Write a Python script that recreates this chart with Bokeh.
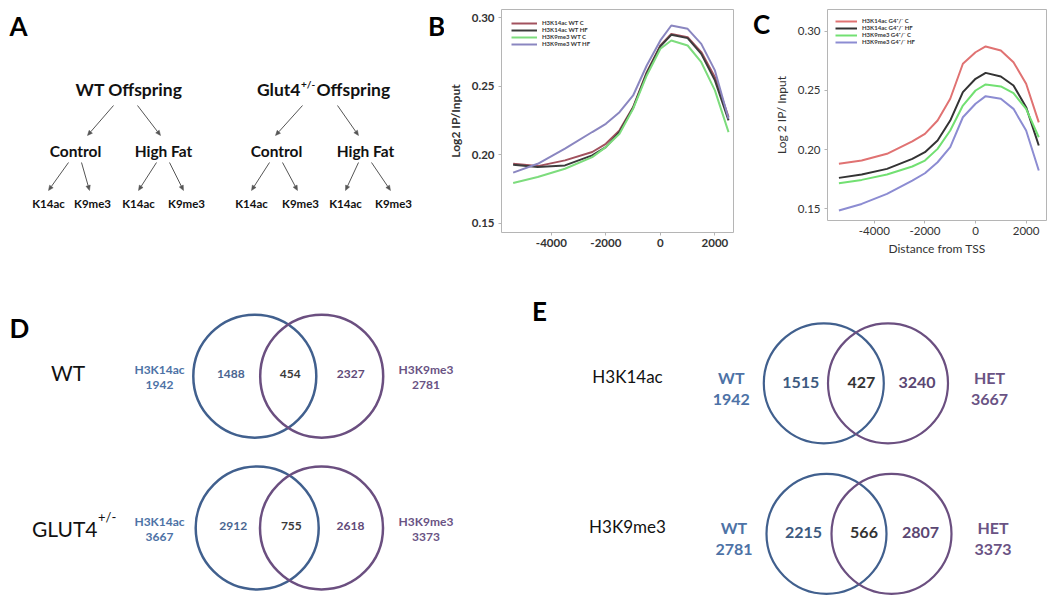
import math
from bokeh.plotting import figure
from bokeh.layouts import row, column
from bokeh.models import (Range1d, FixedTicker, PrintfTickFormatter, Legend, LegendItem)
from bokeh.core.properties import value
from bokeh.embed import file_html
from bokeh.resources import INLINE

FONT = "Lato"

# ---------------- data ----------------
# Panel A: experimental design
genotypes = ["WT", "Glut4"]
genotype_sup = ["", "+/-"]
diets = ["Control", "High Fat"]
marks = ["K14ac", "K9me3"]

# Panels B and C: average ChIP profiles around the TSS
tss_distance = [-5400, -4500, -3500, -2500, -2000, -1500, -1000, -500, 0, 400, 1000, 1500, 2000, 2500]

b_labels = ["H3K14ac WT C", "H3K14ac WT HF", "H3K9me3 WT C", "H3K9me3 WT HF"]
b_k14ac_c = [0.1934, 0.1917, 0.1959, 0.2020, 0.2080, 0.2178, 0.2348, 0.2603, 0.2798, 0.2883, 0.2859, 0.2750, 0.2567, 0.2275]
b_k14ac_hf = [0.1927, 0.1910, 0.1922, 0.1995, 0.2056, 0.2166, 0.2343, 0.2596, 0.2793, 0.2876, 0.2852, 0.2737, 0.2543, 0.2251]
b_k9me3_c = [0.1793, 0.1837, 0.1898, 0.1983, 0.2056, 0.2153, 0.2336, 0.2579, 0.2774, 0.2835, 0.2798, 0.2676, 0.2470, 0.2165]
b_k9me3_hf = [0.1869, 0.1934, 0.2044, 0.2166, 0.2226, 0.2311, 0.2433, 0.2652, 0.2835, 0.2944, 0.2920, 0.2810, 0.2616, 0.2263]

c_labels = ["H3K14ac G4\u207a/\u207b C", "H3K14ac G4\u207a/\u207b HF", "H3K9me3 G4\u207a/\u207b C", "H3K9me3 G4\u207a/\u207b HF"]
c_k14ac_c = [0.1880, 0.1907, 0.1964, 0.2070, 0.2133, 0.2245, 0.2429, 0.2725, 0.2822, 0.2871, 0.2837, 0.2738, 0.2556, 0.2230]
c_k14ac_hf = [0.1761, 0.1789, 0.1837, 0.1922, 0.1978, 0.2076, 0.2245, 0.2485, 0.2598, 0.2648, 0.2617, 0.2541, 0.2358, 0.2034]
c_k9me3_c = [0.1716, 0.1744, 0.1789, 0.1857, 0.1907, 0.2006, 0.2161, 0.2372, 0.2499, 0.2550, 0.2533, 0.2476, 0.2344, 0.2104]
c_k9me3_hf = [0.1485, 0.1541, 0.1626, 0.1738, 0.1800, 0.1893, 0.2020, 0.2273, 0.2387, 0.2451, 0.2429, 0.2344, 0.2161, 0.1823]

x_ticks = [-4000, -2000, 0, 2000]
y_ticks = [0.15, 0.20, 0.25, 0.30]

# Panel D: mark overlap within genotype
d_rows = ["WT", "GLUT4"]
d_rows_sup = ["", "+/-"]
d_left_name = "H3K14ac"
d_right_name = "H3K9me3"
d_left_total = [1942, 3667]
d_right_total = [2781, 3373]
d_left_only = [1488, 2912]
d_overlap = [454, 755]
d_right_only = [2327, 2618]

# Panel E: genotype overlap within mark
e_rows = ["H3K14ac", "H3K9me3"]
e_left_name = "WT"
e_right_name = "HET"
e_left_total = [1942, 2781]
e_right_total = [3667, 3373]
e_left_only = [1515, 2215]
e_overlap = [427, 566]
e_right_only = [3240, 2807]

# ---------------- styles ----------------
BLUE_C = "#41608e"
PURPLE_C = "#6b4f80"
BLUE_T = "#4d72a6"
PURPLE_T = "#6a5384"
DARK = "#222222"
ROW1_H = 290
ROW2_H = 309
TOP_B, BOT_B = 9, 70   # top-row frame borders (row frames get aligned)


def blank(w, h, x0, y0, top=0, bottom=0):
    p = figure(width=w, height=h, x_range=Range1d(x0, x0 + w),
               y_range=Range1d(y0 + h - bottom, y0 + top),
               output_backend="svg", toolbar_location=None,
               min_border_left=0, min_border_right=0, min_border_top=top, min_border_bottom=bottom,
               x_axis_location=None, y_axis_location=None)
    p.grid.visible = False
    p.outline_line_color = None
    return p


def txt(p, x, y, t, size, color=DARK, bold=False, align="center"):
    p.text(x=[x], y=[y], text=[t], text_font=value(FONT), text_font_size=size,
           text_font_style="bold" if bold else "normal", text_color=color,
           text_align=align, text_baseline="middle")


def arrow(p, x0, y0, x1, y1, color="#555"):
    dx, dy = x1 - x0, y1 - y0
    L = math.hypot(dx, dy)
    ux, uy = dx / L, dy / L
    nx, ny = -uy, ux
    bx, by = x1 - 5 * ux, y1 - 5 * uy
    p.segment(x0=[x0], y0=[y0], x1=[bx], y1=[by], line_color=color, line_width=1)
    p.patch(x=[x1, bx + 2.2 * nx, bx - 2.2 * nx], y=[y1, by + 2.2 * ny, by - 2.2 * ny],
            fill_color=color, line_color=color, line_width=0.5)


# ---------------- Panel A (also hosts the "B" letter) ----------------
pa = blank(444, ROW1_H, 0, 0, TOP_B, BOT_B)
txt(pa, 18, 25, "A", "26px", "#000", True)
txt(pa, 436, 25, "B", "26px", "#000", True)
head_x = [128.5, 300]
diet_x = [[75, 163], [276, 365]]
mark_x = [[[48, 92], [138, 186]], [[251, 300], [345, 393]]]
lvl1_start = [[(113, 105), (137, 105)], [(302, 105), (337, 105)]]
lvl1_end = [[(87, 135), (160, 135)], [(275, 135), (358, 135)]]
for g, name in enumerate(genotypes):
    if genotype_sup[g]:
        txt(pa, head_x[g], 89, name, "17.5px", "#111", True, "right")
        txt(pa, head_x[g] + 0.5, 83, genotype_sup[g], "10px", "#111", True, "left")
        txt(pa, head_x[g] + 16, 89, "Offspring", "17.5px", "#111", True, "left")
    else:
        txt(pa, head_x[g], 89, name + " Offspring", "17.5px", "#111", True)
    for d, dname in enumerate(diets):
        (x0, y0), (x1, y1) = lvl1_start[g][d], lvl1_end[g][d]
        arrow(pa, x0, y0, x1, y1)
        txt(pa, diet_x[g][d], 150, dname, "15.5px", "#111", True)
        for m, mname in enumerate(marks):
            sx = diet_x[g][d] + (-7 if m == 0 else 6)
            ex = mark_x[g][d][m] + (0 if m == 0 else -3)
            arrow(pa, sx, 162, ex, 190)
            txt(pa, mark_x[g][d][m], 203, mname, "11.5px", "#111", True)


# ---------------- Panels B, C ----------------
def profile_fig(width, xr, yr, mbl, mbr, mbb, bold):
    p = figure(width=width, height=ROW1_H, x_range=Range1d(*xr), y_range=Range1d(*yr),
               output_backend="svg", toolbar_location=None,
               min_border_left=mbl, min_border_right=mbr, min_border_top=TOP_B, min_border_bottom=mbb)
    p.grid.visible = False
    p.outline_line_color = "#b5b5b5"
    p.xaxis.ticker = FixedTicker(ticks=x_ticks)
    p.yaxis.ticker = FixedTicker(ticks=y_ticks)
    p.xaxis.formatter = PrintfTickFormatter(format="%d")
    p.yaxis.formatter = PrintfTickFormatter(format="%.2f")
    p.axis.axis_line_color = None
    p.axis.major_tick_line_color = "#b5b5b5"
    p.axis.major_tick_out = 3
    p.axis.major_tick_in = 0
    p.axis.minor_tick_line_color = None
    p.axis.major_label_text_font = FONT
    p.axis.major_label_text_font_size = "11.5px"
    p.axis.major_label_text_color = "#333"
    p.axis.major_label_text_font_style = "bold" if bold else "normal"
    p.axis.major_label_standoff = 4
    p.xaxis.major_label_standoff = 3
    p.axis.axis_label_text_font = FONT
    p.axis.axis_label_text_font_size = "12px"
    p.axis.axis_label_text_color = "#333"
    p.axis.axis_label_text_font_style = "bold" if bold else "normal"
    return p


def add_profiles(p, series, labels, colors, margin, glyph_w):
    items = []
    for ys, lab, col in zip(series, labels, colors):
        r = p.line(tss_distance, ys, line_color=col, line_width=2)
        items.append(LegendItem(label=lab, renderers=[r]))
    leg = Legend(items=items, location="top_left", margin=margin, padding=0, spacing=0,
                 glyph_height=6, glyph_width=glyph_w, label_height=6, label_standoff=5,
                 label_text_font=FONT, label_text_font_size="6px", label_text_font_style="bold",
                 label_text_color="#333", border_line_color=None, background_fill_alpha=0)
    p.add_layout(leg)


# B: figure x 444..734, frame 496..733 x 9..232
pb = profile_fig(290, (-5828, 2682), (0.1432, 0.3061), 52, 1, 58, True)
pb.yaxis.axis_label = "Log2 IP/Input"
pb.yaxis.axis_label_standoff = 6
add_profiles(pb, [b_k14ac_c, b_k14ac_hf, b_k9me3_c, b_k9me3_hf], b_labels,
             ["#a2525e", "#3c3c3c", "#7ddc7d", "#8a86c0"], 10, 26)

# gap figure hosting the "C" letter: x 734..770
pg = blank(36, ROW1_H, 734, 0, TOP_B, BOT_B)
txt(pg, 761, 23, "C", "26px", "#000", True)

# C: figure x 770..1048, frame 820..1046 x 9..220
pc = profile_fig(278, (-5851, 2805), (0.1401, 0.3183), 50, 2, BOT_B, False)
pc.yaxis.axis_label = "Log 2 IP/ Input"
pc.xaxis.axis_label = "Distance from TSS"
pc.yaxis.axis_label_standoff = 6
pc.xaxis.axis_label_standoff = 3
add_profiles(pc, [c_k14ac_c, c_k14ac_hf, c_k9me3_c, c_k9me3_hf], c_labels,
             ["#e07272", "#333333", "#72e072", "#8c8cd2"], 8, 22)

# ---------------- Panel D ----------------
pd_ = blank(530, ROW2_H, 0, ROW1_H)
txt(pd_, 19, 327, "D", "26px", "#000", True)
d_cy = [375.7, 527.5]
d_cxl = [254.3, 256.7]
d_cxr = [321.2, 321.0]
for i, name in enumerate(d_rows):
    cy = d_cy[i]
    if d_rows_sup[i]:
        txt(pd_, 97, cy, name, "21px", "#111", False, "right")
        txt(pd_, 97.5, cy - 11, d_rows_sup[i], "13px", "#111", False, "left")
    else:
        txt(pd_, 67.5, cy - 4, name, "21px", "#111")
    pd_.circle(x=[d_cxl[i], d_cxr[i]], y=[cy, cy], radius=61.5, fill_color=None,
               line_color=[BLUE_C, PURPLE_C], line_width=2.5)
    txt(pd_, 159, cy - 7, d_left_name, "12px", BLUE_T, True)
    txt(pd_, 159, cy + 9, str(d_left_total[i]), "12px", BLUE_T, True)
    txt(pd_, 425.5, cy - 7, d_right_name, "12px", PURPLE_T, True)
    txt(pd_, 425.5, cy + 9, str(d_right_total[i]), "12px", PURPLE_T, True)
    txt(pd_, d_cxl[i] - 24, cy - 2.5, str(d_left_only[i]), "12px", "#4a6590", True)
    txt(pd_, (d_cxl[i] + d_cxr[i]) / 2 + 2, cy - 2.5, str(d_overlap[i]), "12px", "#3a3a3a", True)
    txt(pd_, d_cxr[i] + 29, cy - 2.5, str(d_right_only[i]), "12px", "#5f4a78", True)

# ---------------- Panel E ----------------
pe = blank(518, ROW2_H, 530, ROW1_H)
txt(pe, 539, 310, "E", "26px", "#000", True)
e_cy = [382.8, 533.3]
e_cxl = [823.3, 826.0]
e_cxr = [887.5, 891.0]
for i, name in enumerate(e_rows):
    cy = e_cy[i]
    txt(pe, 627, cy - 7, name, "17px", "#111")
    pe.circle(x=[e_cxl[i], e_cxr[i]], y=[cy, cy], radius=60, fill_color=None,
              line_color=[BLUE_C, PURPLE_C], line_width=2.2)
    txt(pe, e_cxl[i] - 92.5, cy - 6, e_left_name, "16px", BLUE_T, True)
    txt(pe, e_cxl[i] - 92.5, cy + 16, str(e_left_total[i]), "16px", BLUE_T, True)
    txt(pe, e_cxr[i] + 101.5, cy - 6, e_right_name, "16px", PURPLE_T, True)
    txt(pe, e_cxr[i] + 101.5, cy + 16, str(e_right_total[i]), "16px", PURPLE_T, True)
    txt(pe, e_cxl[i] - 23, cy - 1, str(e_left_only[i]), "16px", "#3d5a80", True)
    txt(pe, e_cxl[i] + 37.5, cy - 1, str(e_overlap[i]), "16px", "#333333", True)
    txt(pe, e_cxr[i] + 29, cy - 1, str(e_right_only[i]), "16px", "#5a4672", True)

layout = column(row(pa, column(pb), pg, column(pc)), row(pd_, pe))
open("out.html", "w").write(file_html(layout, INLINE))
